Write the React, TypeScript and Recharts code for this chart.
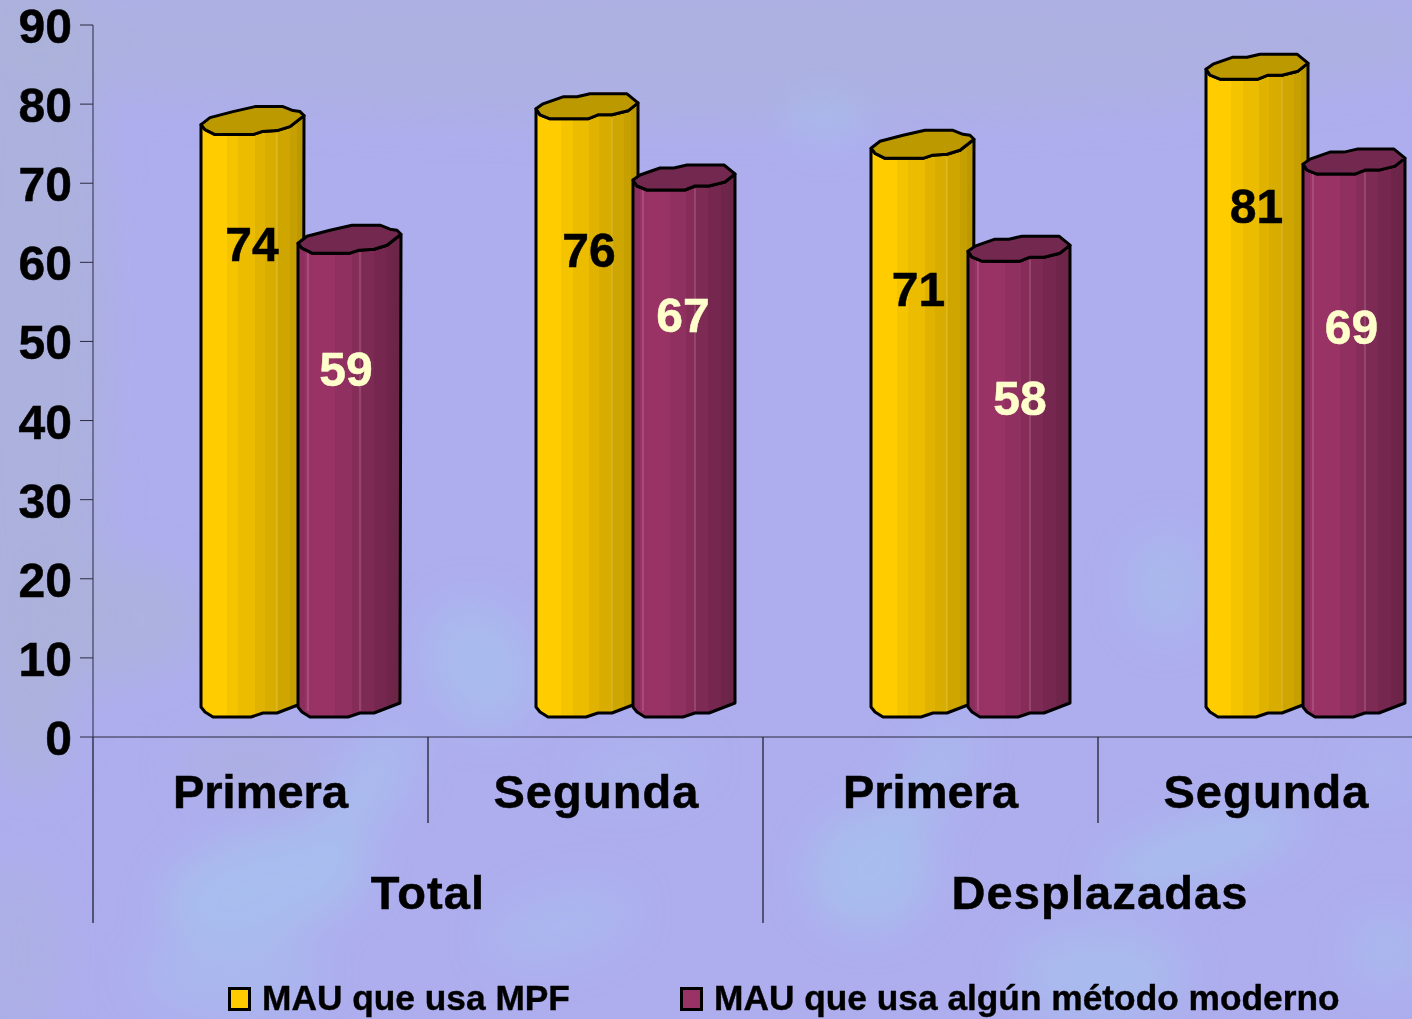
import { Bar, BarChart, LabelList, Legend, XAxis, YAxis } from "recharts";

const categories = ["Primera", "Segunda", "Primera", "Segunda"];
const groups = ["Total", "Total", "Desplazadas", "Desplazadas"];
const mpf = [74, 76, 71, 81];
const moderno = [59, 67, 58, 69];
const yTicks = [0, 10, 20, 30, 40, 50, 60, 70, 80, 90];

const chartData = categories.map((name, i) => ({ name, group: groups[i], mpf: mpf[i], moderno: moderno[i] }));

const FONT = "'Liberation Sans', Arial, sans-serif";
const AXIS = "#2b2b40";

// 3d look: the bars are pushed right and up from where the axis puts them
const DEPTH_X = 37;
const TOP_LIFT = 17;
const BOTTOM_LIFT = 20;
const BAND = 335;

// wobbly cylinder outlines, relative to left edge and lowest point of the cap / base
const capA = [[0, -10], [9, -17], [32, -23], [54, -28], [82, -28], [92, -24], [99, -23], [103, -19], [89, -8], [76, -4], [61, -3], [52, 0], [14, 0], [4, -5]];
const capB = [[0, -10], [7, -15], [27, -22], [41, -22], [54, -25], [91, -25], [102, -16], [92, -8], [76, -4], [62, -4], [52, 0], [14, 0], [4, -4]];
const base = [[0, -10], [4, -5], [12, 0], [50, 0], [62, -4], [76, -4], [102, -14]];

const yellowSteps = ["#ffcc00", "#f5c400", "#ebbc00", "#e0b300", "#d9ad00", "#cfa500", "#c69f00", "#bd9900"];
const yellowEdges = [0, 0.25, 0.36, 0.52, 0.62, 0.74, 0.86, 0.93, 1];
const purpleSteps = ["#8c2f5e", "#993366", "#8f3061", "#852c59", "#7d2a54", "#752750", "#6f2549", "#6b2547"];
const purpleEdges = [0, 0.07, 0.36, 0.52, 0.62, 0.74, 0.86, 0.93, 1];

// where the value labels were placed on each bar
const labelDrop = {
  mpf: [93, 115, 114, 110],
  moderno: [99, 109, 120, 136],
};
const labelAcross = {
  mpf: [51, 53, 47.5, 50.5],
  moderno: [48, 50, 52, 48.5],
};

// soft blue clouds of the slide background: cx, cy, rx, ry, rotation, opacity
const clouds = [
  [265, 885, 105, 52, -15, 0.7],
  [365, 790, 75, 30, -55, 0.55],
  [480, 665, 52, 66, -25, 0.55],
  [230, 975, 90, 42, 0, 0.42],
  [560, 925, 75, 34, -15, 0.38],
  [640, 770, 65, 26, -10, 0.28],
  [870, 870, 62, 58, -40, 0.68],
  [930, 780, 65, 28, -60, 0.5],
  [1200, 850, 105, 30, -18, 0.65],
  [1100, 975, 85, 46, 0, 0.55],
  [1165, 585, 36, 52, 0, 0.5],
  [1385, 950, 34, 34, 0, 0.48],
  [1382, 770, 32, 30, -30, 0.3],
  [825, 118, 36, 20, 0, 0.6],
];
// grey-ish patches, mostly along the left side and the top
const greyPatches = [
  [30, 330, 75, 460, 0, 0.8],
  [110, 620, 90, 60, 0, 0.7],
  [250, 765, 70, 32, 0, 0.5],
  [20, 950, 40, 90, 0, 0.4],
  [700, 40, 750, 80, 0, 0.6],
];

function poly(points: number[][], ox: number, oy: number) {
  return points.map(([dx, dy]) => `${(ox + dx).toFixed(1)},${(oy + dy).toFixed(1)}`);
}

function Cylinder(props: any) {
  const { x, y, height, index, seriesKey, fillId, capColor } = props;
  const left = x + DEPTH_X;
  const capBottom = y - TOP_LIFT;
  const baseBottom = y + height - BOTTOM_LIFT;
  const useA = index === 0 || (seriesKey === "mpf" && index === 2);
  const cap = useA ? capA : capB;
  const capPts = poly(cap, left, capBottom);
  const rightTop = useA ? [left + 103, capBottom - 19] : [left + 102, capBottom - 16];
  const body = [
    `${left},${capBottom - 10}`,
    ...poly(base, left, baseBottom),
    `${rightTop[0]},${rightTop[1]}`,
    ...capPts.slice(useA ? 8 : 7),
  ];
  const shines = seriesKey === "mpf" ? [left + 76] : [left + 10, left + 62];
  return (
    <g>
      <polygon points={body.join(" ")} fill={`url(#${fillId})`} stroke="#000" strokeWidth={3} strokeLinejoin="round" />
      {shines.map((sx) => (
        <line key={sx} x1={sx} x2={sx} y1={capBottom - 1} y2={baseBottom - 6} stroke="#fff" strokeOpacity={0.25} strokeWidth={1} />
      ))}
      <polygon points={capPts.join(" ")} fill={capColor} stroke="#000" strokeWidth={3} strokeLinejoin="round" />
    </g>
  );
}

function valueLabel(seriesKey: "mpf" | "moderno", color: string) {
  return (props: any) => {
    const { x, y, value, index } = props;
    return (
      <text
        x={x + DEPTH_X + labelAcross[seriesKey][index]}
        y={y + labelDrop[seriesKey][index]}
        textAnchor="middle"
        dominantBaseline="central"
        fontFamily={FONT}
        fontWeight={700}
        fontSize={48}
        fill={color}
        stroke={color}
        strokeWidth={0.5}
      >
        {value}
      </text>
    );
  };
}

function CategoryTick(props: any) {
  const { x, payload, index } = props;
  const edge = x - BAND / 2;
  const startsGroup = index % 2 === 0;
  return (
    <g fontFamily={FONT} fontWeight={700} fontSize={47} fill="#000" stroke="#000" strokeWidth={0.5}>
      <line x1={edge} x2={edge} y1={737} y2={startsGroup ? 923 : 823} stroke={AXIS} strokeWidth={1.4} />
      <text x={x + (payload.value === "Primera" ? 0 : 1)} y={808} textAnchor="middle" letterSpacing={payload.value === "Primera" ? 0 : 1.1}>
        {payload.value}
      </text>
      {startsGroup && (
        <text x={x + BAND / 2 + index} y={909} textAnchor="middle" letterSpacing={1.1}>
          {groups[index]}
        </text>
      )}
    </g>
  );
}

function ChartLegend(props: any) {
  const lefts = [228, 680];
  return (
    <div style={{ position: "relative", height: 40 }}>
      {props.payload.map((entry: any, i: number) => (
        <div key={entry.value}>
          <div
            style={{
              position: "absolute",
              left: lefts[i],
              top: 10,
              width: 17,
              height: 18,
              background: entry.color,
              border: "3px solid #000",
            }}
          />
          <div
            style={{
              position: "absolute",
              left: lefts[i] + 34,
              top: 1,
              fontFamily: FONT,
              fontWeight: 700,
              fontSize: 35.3,
              lineHeight: "40px",
              color: "#000",
              whiteSpace: "nowrap",
              WebkitTextStroke: "0.4px #000",
            }}
          >
            {entry.value}
          </div>
        </div>
      ))}
    </div>
  );
}

function Backdrop() {
  return (
    <svg width={1412} height={1019} style={{ position: "absolute", left: 0, top: 0 }}>
      <defs>
        <filter id="soft" x="-50%" y="-50%" width="200%" height="200%">
          <feGaussianBlur stdDeviation="20" />
        </filter>
      </defs>
      <rect width={1412} height={1019} fill="#aeaeee" />
      <g filter="url(#soft)">
        {greyPatches.map(([cx, cy, rx, ry, rot, op]) => (
          <ellipse key={`g${cx}${cy}`} cx={cx} cy={cy} rx={rx} ry={ry} fill="#abb2d8" opacity={op} transform={`rotate(${rot} ${cx} ${cy})`} />
        ))}
        {clouds.map(([cx, cy, rx, ry, rot, op]) => (
          <ellipse key={`c${cx}${cy}`} cx={cx} cy={cy} rx={rx} ry={ry} fill="#a5c4ee" opacity={op} transform={`rotate(${rot} ${cx} ${cy})`} />
        ))}
      </g>
    </svg>
  );
}

function GradientDefs({ id, steps, edges }: { id: string; steps: string[]; edges: number[] }) {
  return (
    <linearGradient id={id} x1="0" y1="0" x2="1" y2="0">
      {steps.flatMap((color, i) => [
        <stop key={`${i}a`} offset={edges[i]} stopColor={color} />,
        <stop key={`${i}b`} offset={edges[i + 1]} stopColor={color} />,
      ])}
    </linearGradient>
  );
}

export default function App() {
  return (
    <div style={{ width: 1412, height: 1019, overflow: "hidden", position: "relative" }}>
      <style>{"body{margin:0}"}</style>
      <Backdrop />
      <BarChart
        width={1433}
        height={1019}
        data={chartData}
        margin={{ top: 25, right: 0, bottom: 56, left: 0 }}
        barSize={97}
        barGap={0}
        style={{ position: "absolute", left: 0, top: 0 }}
      >
        <defs>
          <GradientDefs id="yellowBody" steps={yellowSteps} edges={yellowEdges} />
          <GradientDefs id="purpleBody" steps={purpleSteps} edges={purpleEdges} />
        </defs>
        <XAxis dataKey="name" height={186} interval={0} tickLine={false} stroke={AXIS} tick={<CategoryTick />} />
        <YAxis
          width={93}
          domain={[0, 90]}
          ticks={yTicks}
          interval={0}
          tickSize={13}
          tickMargin={8}
          stroke={AXIS}
          tick={{ fontFamily: FONT, fontWeight: 700, fontSize: 48, fill: "#000", stroke: "#000", strokeWidth: 0.5, dy: 1 }}
        />
        <Legend
          content={<ChartLegend />}
          verticalAlign="bottom"
          wrapperStyle={{ top: 977, left: 0, bottom: "auto", width: 1412 }}
        />
        <Bar
          dataKey="mpf"
          name="MAU que usa MPF"
          fill="#ffcc00"
          isAnimationActive={false}
          shape={(p: any) => <Cylinder {...p} seriesKey="mpf" fillId="yellowBody" capColor="#bd9900" />}
        >
          <LabelList dataKey="mpf" content={valueLabel("mpf", "#000")} />
        </Bar>
        <Bar
          dataKey="moderno"
          name="MAU que usa algún método moderno"
          fill="#993366"
          isAnimationActive={false}
          shape={(p: any) => <Cylinder {...p} seriesKey="moderno" fillId="purpleBody" capColor="#73294f" />}
        >
          <LabelList dataKey="moderno" content={valueLabel("moderno", "#ffffcc")} />
        </Bar>
      </BarChart>
    </div>
  );
}
